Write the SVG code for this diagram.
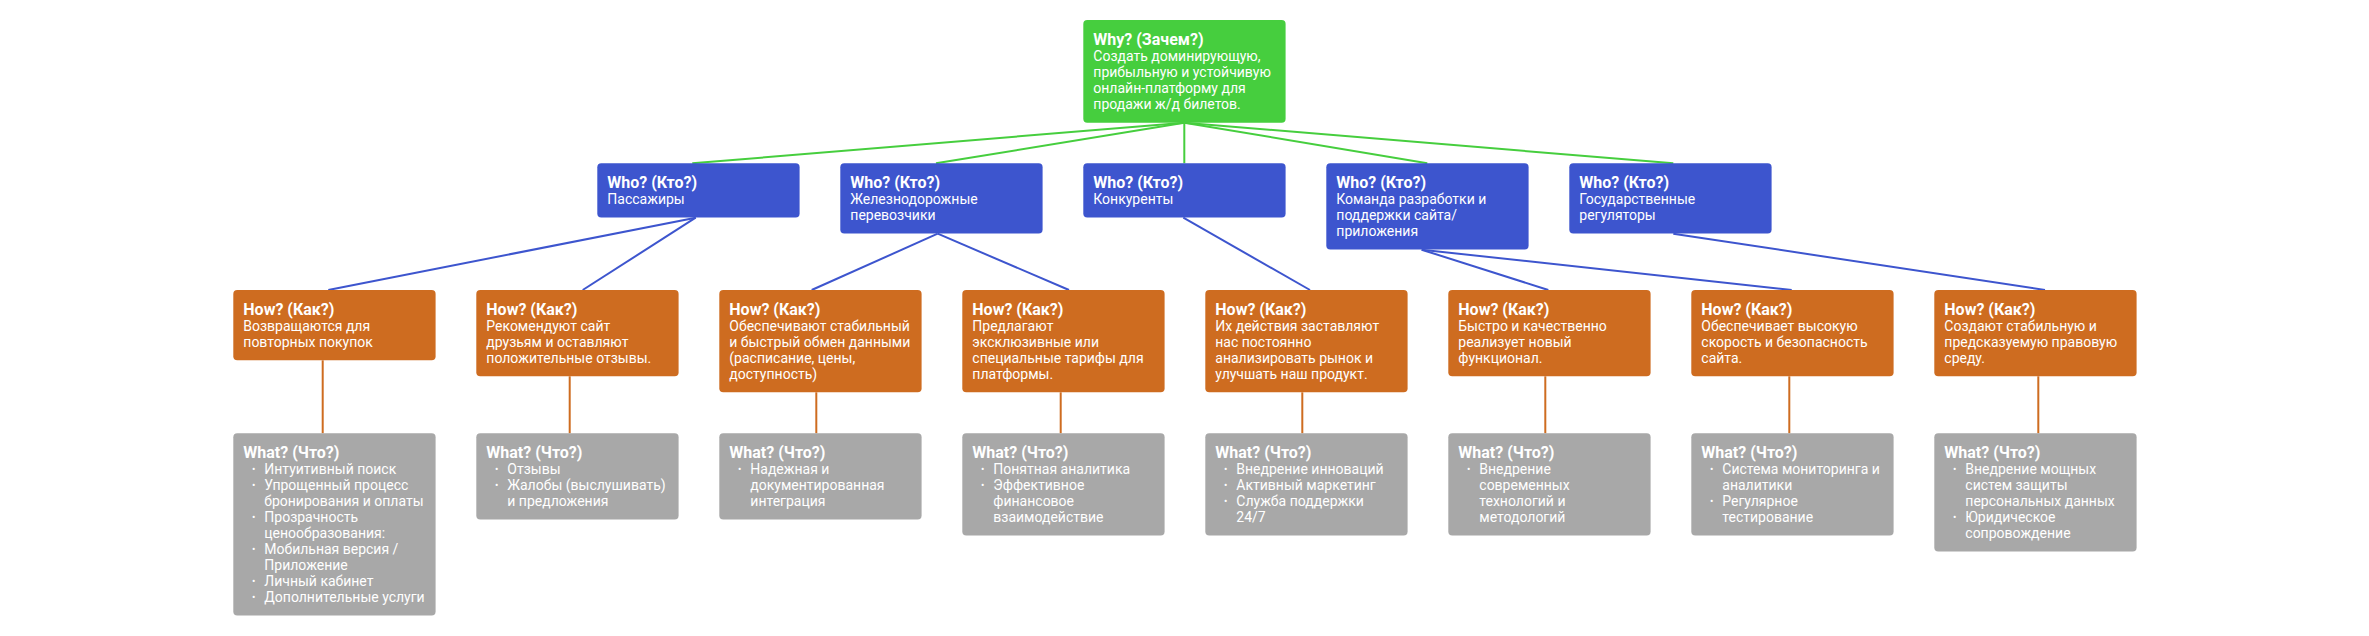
<svg xmlns="http://www.w3.org/2000/svg" width="2369" height="636" viewBox="0 0 2369 636">
<style>
  text { font-family: Roboto, "Noto Sans", "Liberation Sans", sans-serif; fill: #ffffff; }
  .t { font-size: 16px; font-weight: 700; }
  .b { font-size: 14px; font-weight: 400; }
  .dot { font-size: 10px; }
  .why { fill: #46CE3E; }
  .who { fill: #3D55CE; }
  .how { fill: #CE6C20; }
  .what { fill: #A8A8A8; }
  .lg { stroke: #46CE3E; stroke-width: 2; fill: none; }
  .lb { stroke: #3D55CE; stroke-width: 2; fill: none; }
  .lo { stroke: #CE6C20; stroke-width: 2; fill: none; }
</style>
<rect width="2369" height="636" fill="#ffffff"/>
<g id="connectors">
  <line class="lg" x1="1184.3" y1="122.7" x2="692.3" y2="163.3"/>
  <line class="lg" x1="1184.3" y1="122.7" x2="936" y2="163.3"/>
  <line class="lg" x1="1184.3" y1="122.7" x2="1184.3" y2="163.3"/>
  <line class="lg" x1="1184.3" y1="122.7" x2="1427.3" y2="163.3"/>
  <line class="lg" x1="1184.3" y1="122.7" x2="1673.3" y2="163.3"/>
  <line class="lb" x1="695.7" y1="217.7" x2="328.3" y2="290"/>
  <line class="lb" x1="695.7" y1="217.7" x2="582.7" y2="290"/>
  <line class="lb" x1="937.7" y1="233.7" x2="811.7" y2="290"/>
  <line class="lb" x1="937.7" y1="233.7" x2="1069" y2="290"/>
  <line class="lb" x1="1183.3" y1="217.7" x2="1310" y2="290"/>
  <line class="lb" x1="1421.7" y1="249.7" x2="1548.3" y2="290"/>
  <line class="lb" x1="1421.7" y1="249.7" x2="1791.7" y2="290"/>
  <line class="lb" x1="1673.3" y1="233.7" x2="2045" y2="290"/>
  <line class="lo" x1="322.7" y1="360.3" x2="322.7" y2="433.3"/>
  <line class="lo" x1="569.7" y1="376.3" x2="569.7" y2="433.3"/>
  <line class="lo" x1="816.3" y1="392.3" x2="816.3" y2="433.3"/>
  <line class="lo" x1="1060.7" y1="392.3" x2="1060.7" y2="433.3"/>
  <line class="lo" x1="1302.3" y1="392.3" x2="1302.3" y2="433.3"/>
  <line class="lo" x1="1545.3" y1="376.3" x2="1545.3" y2="433.3"/>
  <line class="lo" x1="1789.3" y1="376.3" x2="1789.3" y2="433.3"/>
  <line class="lo" x1="2038.3" y1="376.3" x2="2038.3" y2="433.3"/>
</g>

<g id="why">
  <rect class="why" x="1083.3" y="20" width="202.3" height="102.7" rx="4"/>
  <text class="t" x="1093.3" y="45">Why? (Зачем?)</text>
  <text class="b" x="1093.3" y="61">Создать доминирующую,</text>
  <text class="b" x="1093.3" y="77">прибыльную и устойчивую</text>
  <text class="b" x="1093.3" y="93">онлайн-платформу для</text>
  <text class="b" x="1093.3" y="109">продажи ж/д билетов.</text>
</g>

<g id="who1">
  <rect class="who" x="597.3" y="163.3" width="202.3" height="54.3" rx="4"/>
  <text class="t" x="607.3" y="188.3">Who? (Кто?)</text>
  <text class="b" x="607.3" y="204.3">Пассажиры</text>
</g>
<g id="who2">
  <rect class="who" x="840.3" y="163.3" width="202.3" height="70.3" rx="4"/>
  <text class="t" x="850.3" y="188.3">Who? (Кто?)</text>
  <text class="b" x="850.3" y="204.3">Железнодорожные</text>
  <text class="b" x="850.3" y="220.3">перевозчики</text>
</g>
<g id="who3">
  <rect class="who" x="1083.3" y="163.3" width="202.3" height="54.3" rx="4"/>
  <text class="t" x="1093.3" y="188.3">Who? (Кто?)</text>
  <text class="b" x="1093.3" y="204.3">Конкуренты</text>
</g>
<g id="who4">
  <rect class="who" x="1326.3" y="163.3" width="202.3" height="86.3" rx="4"/>
  <text class="t" x="1336.3" y="188.3">Who? (Кто?)</text>
  <text class="b" x="1336.3" y="204.3">Команда разработки и</text>
  <text class="b" x="1336.3" y="220.3">поддержки сайта/</text>
  <text class="b" x="1336.3" y="236.3">приложения</text>
</g>
<g id="who5">
  <rect class="who" x="1569.3" y="163.3" width="202.3" height="70.3" rx="4"/>
  <text class="t" x="1579.3" y="188.3">Who? (Кто?)</text>
  <text class="b" x="1579.3" y="204.3">Государственные</text>
  <text class="b" x="1579.3" y="220.3">регуляторы</text>
</g>

<g id="how1">
  <rect class="how" x="233.3" y="290" width="202.3" height="70.3" rx="4"/>
  <text class="t" x="243.3" y="315">How? (Как?)</text>
  <text class="b" x="243.3" y="331">Возвращаются для</text>
  <text class="b" x="243.3" y="347">повторных покупок</text>
</g>
<g id="how2">
  <rect class="how" x="476.3" y="290" width="202.3" height="86.3" rx="4"/>
  <text class="t" x="486.3" y="315">How? (Как?)</text>
  <text class="b" x="486.3" y="331">Рекомендуют сайт</text>
  <text class="b" x="486.3" y="347">друзьям и оставляют</text>
  <text class="b" x="486.3" y="363">положительные отзывы.</text>
</g>
<g id="how3">
  <rect class="how" x="719.3" y="290" width="202.3" height="102.3" rx="4"/>
  <text class="t" x="729.3" y="315">How? (Как?)</text>
  <text class="b" x="729.3" y="331">Обеспечивают стабильный</text>
  <text class="b" x="729.3" y="347">и быстрый обмен данными</text>
  <text class="b" x="729.3" y="363">(расписание, цены,</text>
  <text class="b" x="729.3" y="379">доступность)</text>
</g>
<g id="how4">
  <rect class="how" x="962.3" y="290" width="202.3" height="102.3" rx="4"/>
  <text class="t" x="972.3" y="315">How? (Как?)</text>
  <text class="b" x="972.3" y="331">Предлагают</text>
  <text class="b" x="972.3" y="347">эксклюзивные или</text>
  <text class="b" x="972.3" y="363">специальные тарифы для</text>
  <text class="b" x="972.3" y="379">платформы.</text>
</g>
<g id="how5">
  <rect class="how" x="1205.3" y="290" width="202.3" height="102.3" rx="4"/>
  <text class="t" x="1215.3" y="315">How? (Как?)</text>
  <text class="b" x="1215.3" y="331">Их действия заставляют</text>
  <text class="b" x="1215.3" y="347">нас постоянно</text>
  <text class="b" x="1215.3" y="363">анализировать рынок и</text>
  <text class="b" x="1215.3" y="379">улучшать наш продукт.</text>
</g>
<g id="how6">
  <rect class="how" x="1448.3" y="290" width="202.3" height="86.3" rx="4"/>
  <text class="t" x="1458.3" y="315">How? (Как?)</text>
  <text class="b" x="1458.3" y="331">Быстро и качественно</text>
  <text class="b" x="1458.3" y="347">реализует новый</text>
  <text class="b" x="1458.3" y="363">функционал.</text>
</g>
<g id="how7">
  <rect class="how" x="1691.3" y="290" width="202.3" height="86.3" rx="4"/>
  <text class="t" x="1701.3" y="315">How? (Как?)</text>
  <text class="b" x="1701.3" y="331">Обеспечивает высокую</text>
  <text class="b" x="1701.3" y="347">скорость и безопасность</text>
  <text class="b" x="1701.3" y="363">сайта.</text>
</g>
<g id="how8">
  <rect class="how" x="1934.3" y="290" width="202.3" height="86.3" rx="4"/>
  <text class="t" x="1944.3" y="315">How? (Как?)</text>
  <text class="b" x="1944.3" y="331">Создают стабильную и</text>
  <text class="b" x="1944.3" y="347">предсказуемую правовую</text>
  <text class="b" x="1944.3" y="363">среду.</text>
</g>

<g id="what1">
  <rect class="what" x="233.3" y="433.3" width="202.3" height="182.3" rx="4"/>
  <text class="t" x="243.3" y="458">What? (Что?)</text>
  <text class="dot" x="252" y="473">•</text><text class="b" x="264.3" y="474">Интуитивный поиск</text>
  <text class="dot" x="252" y="489">•</text><text class="b" x="264.3" y="490">Упрощенный процесс</text>
  <text class="b" x="264.3" y="506">бронирования и оплаты</text>
  <text class="dot" x="252" y="521">•</text><text class="b" x="264.3" y="522">Прозрачность</text>
  <text class="b" x="264.3" y="538">ценообразования:</text>
  <text class="dot" x="252" y="553">•</text><text class="b" x="264.3" y="554">Мобильная версия /</text>
  <text class="b" x="264.3" y="570">Приложение</text>
  <text class="dot" x="252" y="585">•</text><text class="b" x="264.3" y="586">Личный кабинет</text>
  <text class="dot" x="252" y="601">•</text><text class="b" x="264.3" y="602">Дополнительные услуги</text>
</g>
<g id="what2">
  <rect class="what" x="476.3" y="433.3" width="202.3" height="86.3" rx="4"/>
  <text class="t" x="486.3" y="458">What? (Что?)</text>
  <text class="dot" x="495" y="473">•</text><text class="b" x="507.3" y="474">Отзывы</text>
  <text class="dot" x="495" y="489">•</text><text class="b" x="507.3" y="490">Жалобы (выслушивать)</text>
  <text class="b" x="507.3" y="506">и предложения</text>
</g>
<g id="what3">
  <rect class="what" x="719.3" y="433.3" width="202.3" height="86.3" rx="4"/>
  <text class="t" x="729.3" y="458">What? (Что?)</text>
  <text class="dot" x="738" y="473">•</text><text class="b" x="750.3" y="474">Надежная и</text>
  <text class="b" x="750.3" y="490">документированная</text>
  <text class="b" x="750.3" y="506">интеграция</text>
</g>
<g id="what4">
  <rect class="what" x="962.3" y="433.3" width="202.3" height="102.3" rx="4"/>
  <text class="t" x="972.3" y="458">What? (Что?)</text>
  <text class="dot" x="981" y="473">•</text><text class="b" x="993.3" y="474">Понятная аналитика</text>
  <text class="dot" x="981" y="489">•</text><text class="b" x="993.3" y="490">Эффективное</text>
  <text class="b" x="993.3" y="506">финансовое</text>
  <text class="b" x="993.3" y="522">взаимодействие</text>
</g>
<g id="what5">
  <rect class="what" x="1205.3" y="433.3" width="202.3" height="102.3" rx="4"/>
  <text class="t" x="1215.3" y="458">What? (Что?)</text>
  <text class="dot" x="1224" y="473">•</text><text class="b" x="1236.3" y="474">Внедрение инноваций</text>
  <text class="dot" x="1224" y="489">•</text><text class="b" x="1236.3" y="490">Активный маркетинг</text>
  <text class="dot" x="1224" y="505">•</text><text class="b" x="1236.3" y="506">Служба поддержки</text>
  <text class="b" x="1236.3" y="522">24/7</text>
</g>
<g id="what6">
  <rect class="what" x="1448.3" y="433.3" width="202.3" height="102.3" rx="4"/>
  <text class="t" x="1458.3" y="458">What? (Что?)</text>
  <text class="dot" x="1467" y="473">•</text><text class="b" x="1479.3" y="474">Внедрение</text>
  <text class="b" x="1479.3" y="490">современных</text>
  <text class="b" x="1479.3" y="506">технологий и</text>
  <text class="b" x="1479.3" y="522">методологий</text>
</g>
<g id="what7">
  <rect class="what" x="1691.3" y="433.3" width="202.3" height="102.3" rx="4"/>
  <text class="t" x="1701.3" y="458">What? (Что?)</text>
  <text class="dot" x="1710" y="473">•</text><text class="b" x="1722.3" y="474">Система мониторинга и</text>
  <text class="b" x="1722.3" y="490">аналитики</text>
  <text class="dot" x="1710" y="505">•</text><text class="b" x="1722.3" y="506">Регулярное</text>
  <text class="b" x="1722.3" y="522">тестирование</text>
</g>
<g id="what8">
  <rect class="what" x="1934.3" y="433.3" width="202.3" height="118.3" rx="4"/>
  <text class="t" x="1944.3" y="458">What? (Что?)</text>
  <text class="dot" x="1953" y="473">•</text><text class="b" x="1965.3" y="474">Внедрение мощных</text>
  <text class="b" x="1965.3" y="490">систем защиты</text>
  <text class="b" x="1965.3" y="506">персональных данных</text>
  <text class="dot" x="1953" y="521">•</text><text class="b" x="1965.3" y="522">Юридическое</text>
  <text class="b" x="1965.3" y="538">сопровождение</text>
</g>
</svg>
